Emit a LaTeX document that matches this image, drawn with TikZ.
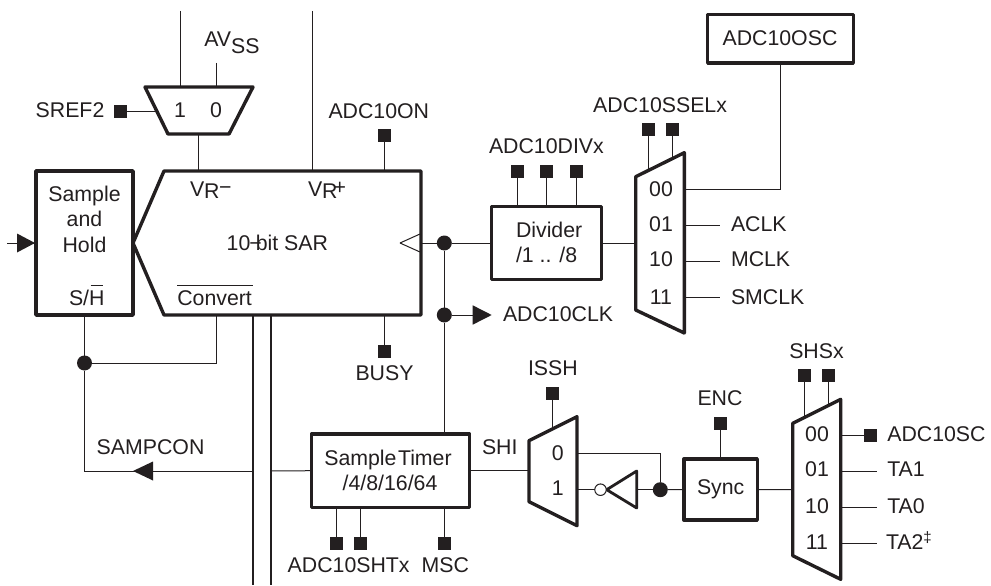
\documentclass[tikz,border=0pt]{standalone}
\usepackage{fontspec}
\setmainfont{Liberation Sans}
\definecolor{ink}{HTML}{231F20}
\tikzset{
  lbl/.style={inner sep=0pt,outer sep=0pt,text=ink,font=\fontsize{21.3}{25}\selectfont},
  wire/.style={draw=ink,line width=1pt},
  bus/.style={draw=ink,line width=2.2pt},
  thk/.style={draw=ink,line width=3.4pt,line join=round},
  boxn/.style={draw=ink,line width=3.4pt,line join=round,inner sep=0pt,outer sep=0pt,fill=white},
  pad/.style={fill=ink,inner sep=0pt,outer sep=0pt,minimum size=13pt,draw=none},
  jdot/.style={circle,fill=ink,inner sep=0pt,outer sep=0pt,minimum size=15pt,draw=none},
  bub/.style={circle,draw=ink,line width=1pt,fill=white,inner sep=0pt,outer sep=0pt,minimum size=11.5pt},
  head/.style={fill=ink,draw=none},
}
\begin{document}
\begin{tikzpicture}[x=1pt,y=-1pt]
\path[use as bounding box,fill=white] (0,0) rectangle (991,586);

% --- coordinates of the free ends
\coordinate (top1) at (180.5,11);
\coordinate (topav) at (216,63);
\coordinate (topvp) at (312.5,11);
\coordinate (m1in1) at (180.5,87);
\coordinate (m1in0) at (216,87);
\coordinate (m1out) at (198.5,134);
\coordinate (m1sel) at (155,111);
\coordinate (adcvm) at (198.5,171);
\coordinate (adcvp) at (312.5,171);
\coordinate (adcon) at (384.5,171);
\coordinate (adcbusy) at (384.5,315);
\coordinate (adcclk) at (421,243);
\coordinate (adcconv) at (216,315);
\coordinate (adcb1) at (252.7,315);
\coordinate (adcb2) at (270.7,315);
\coordinate (b1end) at (252.7,585);
\coordinate (b2end) at (270.7,585);
\coordinate (inL) at (7,243);
\coordinate (cornerA) at (84.5,471);
\coordinate (cornerB) at (216,363);
\coordinate (bus1y) at (252.7,471);
\coordinate (bus2y) at (270.7,471);
\coordinate (clkout) at (490,315);

% --- boxes
\node[boxn,minimum width=97pt,minimum height=144pt] (sh) at (84.5,243) {};
\node[boxn,minimum width=109.5pt,minimum height=72.5pt] (div) at (546.5,243) {};
\node[boxn,minimum width=145.6pt,minimum height=48.5pt] (osc) at (780.5,38.7) {};
\node[boxn,minimum width=158pt,minimum height=73.5pt] (timer) at (390.5,470.7) {};
\node[boxn,minimum width=73.3pt,minimum height=61pt] (sync) at (720.7,489.5) {};

% --- ADC body and muxes
\draw[thk] (421,171) -- (164,171) -- (133,243) -- (164,315) -- (421,315) -- cycle;
\draw[wire] (400,243) -- (420,234);
\draw[wire] (400,243) -- (420,252);
\draw[thk] (145,87) -- (253,87) -- (229,134) -- (168,134) -- cycle;
\draw[thk] (635.7,176.7) -- (684.3,152.7) -- (684.3,333) -- (635.7,310) -- cycle;
\draw[thk] (529,440.7) -- (577,416.7) -- (577,525.7) -- (529,501.7) -- cycle;
\draw[thk] (792.7,423.3) -- (840.7,399.3) -- (840.7,579.3) -- (792.7,555.7) -- cycle;
\draw[draw=ink,line width=2.8pt,line join=round] (606.7,489.7) -- (636.7,471) -- (636.7,508) -- cycle;

% --- pads
\node[pad] (psref) at (120.5,111) {};
\node[pad] (pon) at (384.5,135) {};
\node[pad] (pbusy) at (384.5,351) {};
\node[pad] (pd1) at (517,171.3) {};
\node[pad] (pd2) at (546.7,171.3) {};
\node[pad] (pd3) at (576,171.3) {};
\node[pad] (ps1) at (648.7,129.3) {};
\node[pad] (ps2) at (672.7,129.3) {};
\node[pad] (pt1) at (336.3,543.3) {};
\node[pad] (pt2) at (360.3,543.3) {};
\node[pad] (pmsc) at (444.3,543.3) {};
\node[pad] (pissh) at (552.3,393.3) {};
\node[pad] (penc) at (720.3,423.3) {};
\node[pad] (ph1) at (804.3,375.3) {};
\node[pad] (ph2) at (828.3,375.3) {};
\node[pad] (psc) at (870.3,435) {};

% --- junctions
\node[jdot] (j1) at (84.5,363) {};
\node[jdot] (j2) at (444.3,243) {};
\node[jdot] (j3) at (444.3,315) {};
\node[jdot] (j4) at (660.3,489.7) {};
\node[bub] (nb) at (600.5,489.7) {};

% --- wires, top
\draw[wire] (top1) -- (m1in1);
\draw[wire] (topav) -- (m1in0);
\draw[wire] (m1out) -- (adcvm);
\draw[wire] (topvp) -- (adcvp);
\draw[wire] (psref.east) -- (m1sel);
\draw[wire] (pon.south) -- (adcon);
\draw[wire] (adcbusy) -- (pbusy.north);
\draw[wire] (adcclk) -- (j2);
\draw[wire] (j2) -- (div.west);
\draw[wire] (j2) -- (j3);
\draw[wire] (j3) -- (timer.north -| j3);
\draw[wire] (pd1.south) -- (div.north -| pd1);
\draw[wire] (pd2.south) -- (div.north -| pd2);
\draw[wire] (pd3.south) -- (div.north -| pd3);
\coordinate (m2w) at (635.7,243);
\draw[wire] (div.east) -- (m2w);
\coordinate (m2s1) at (648.7,170);
\coordinate (m2s2) at (672.7,158);
\draw[wire] (ps1.south) -- (m2s1);
\draw[wire] (ps2.south) -- (m2s2);
\coordinate (m200) at (684.3,189);
\coordinate (m201) at (684.3,225);
\coordinate (m210) at (684.3,261.5);
\coordinate (m211) at (684.3,297);
\coordinate (aclk) at (720,225);
\coordinate (mclk) at (720,261.5);
\coordinate (smclk) at (720,297);
\draw[wire] (osc.south -| 780.7,0) -- (780.7,189) -- (m200);
\draw[wire] (m201) -- (aclk);
\draw[wire] (m210) -- (mclk);
\draw[wire] (m211) -- (smclk);

% --- clock out arrow
\draw[wire] (j3) -- (clkout);
\coordinate (cka) at (472.7,305.3);
\coordinate (ckb) at (472.7,324.7);
\coordinate (ckt) at (491.7,315);
\fill[head] (cka) -- (ckt) -- (ckb) -- cycle;

% --- input arrow
\draw[wire] (inL) -- (sh.west);
\coordinate (ia) at (17,233.5);
\coordinate (ib) at (17,252.5);
\coordinate (it) at (35,243);
\fill[head] (ia) -- (it) -- (ib) -- cycle;

% --- S/H, convert, sampcon
\draw[wire] (sh.south) -- (j1);
\draw[wire] (adcconv) -- (cornerB) -- (j1);
\draw[wire] (j1) -- (cornerA) -- (bus1y);
\draw[wire] (bus2y) -- (timer.west);
\coordinate (sa) at (153,461.5);
\coordinate (sb) at (153,480.5);
\coordinate (st) at (133,471);
\fill[head] (sa) -- (st) -- (sb) -- cycle;
\draw[bus] (adcb1) -- (b1end);
\draw[bus] (adcb2) -- (b2end);

% --- timer connections
\draw[wire] (timer.south -| pt1) -- (pt1.north);
\draw[wire] (timer.south -| pt2) -- (pt2.north);
\draw[wire] (timer.south -| pmsc) -- (pmsc.north);
\coordinate (m3w) at (529,470.7);
\draw[wire] (timer.east) -- (m3w);
\coordinate (m3s) at (552.3,428);
\draw[wire] (pissh.south) -- (m3s);
\coordinate (m30) at (577,453.7);
\coordinate (m31) at (577,489.7);
\coordinate (trb) at (636.7,489.7);
\draw[wire] (m30) -- (660.3,453.7) -- (j4);
\draw[wire] (m31) -- (nb.west);
\draw[wire] (trb) -- (j4);
\draw[wire] (j4) -- (sync.west);
\draw[wire] (penc.south) -- (sync.north -| penc);
\coordinate (m4w) at (792.7,489.7);
\draw[wire] (sync.east) -- (m4w);
\coordinate (m4s1) at (804.3,417);
\coordinate (m4s2) at (828.3,405);
\draw[wire] (ph1.south) -- (m4s1);
\draw[wire] (ph2.south) -- (m4s2);
\coordinate (m400) at (840.7,435);
\coordinate (m401) at (840.7,471.3);
\coordinate (m410) at (840.7,507.7);
\coordinate (m411) at (840.7,543.7);
\coordinate (ta1) at (876.7,471.3);
\coordinate (ta0) at (876.7,507.7);
\coordinate (ta2) at (876.7,543.7);
\draw[wire] (m400) -- (psc.west);
\draw[wire] (m401) -- (ta1);
\draw[wire] (m410) -- (ta0);
\draw[wire] (m411) -- (ta2);

% --- labels
\node[lbl,anchor=base west] (tav) at (204.3,46.7) {AV\lower6.5pt\hbox{SS}};
\node[lbl,anchor=base] (t1a) at (180,117.7) {1};
\node[lbl,anchor=base] (t0a) at (216,117.7) {0};
\node[lbl,anchor=base west] (tsref) at (35.7,117.7) {SREF2};
\node[lbl,anchor=base west] (ton) at (328.5,118) {ADC10ON};
\node[lbl,anchor=base west] (tdiv) at (489,153) {ADC10DIVx};
\node[lbl,anchor=base east] (tsel) at (727,112) {ADC10SSELx};
\node[lbl,anchor=base] (tosc) at (780,46) {ADC10OSC};
\node[lbl,anchor=base] (tsa) at (84.5,201.7) {Sample};
\node[lbl,anchor=base] (tan) at (84.5,226.7) {and};
\node[lbl,anchor=base] (tho) at (84.5,252.7) {Hold};
\node[lbl,anchor=base west] (tsh) at (69,305.7) {S/H};
\coordinate (ovh1) at (90.7,285.3);
\coordinate (ovh2) at (103,285.3);
\draw[wire] (ovh1) -- (ovh2);
\node[lbl,anchor=base west] (tvm) at (190,196) {V\lower2.3pt\hbox{R}\kern-0.5pt\raise2pt\hbox{−}};
\node[lbl,anchor=base west] (tvp) at (308,196) {V\lower2.3pt\hbox{R}\kern-4pt\raise2pt\hbox{+}};
\node[lbl,anchor=base west] (tsar) at (226.7,250) {10\kern-1pt−\kern-6pt bit SAR};
\node[lbl,anchor=base west] (tcv) at (177.3,305.7) {Convert};
\coordinate (ovc1) at (177.3,285.3);
\coordinate (ovc2) at (253,285.3);
\draw[wire] (ovc1) -- (ovc2);
\node[lbl,anchor=base west] (tdv1) at (516,237) {Divider};
\node[lbl,anchor=base west] (tdv2) at (516,262) {/1 .. /8};
\node[lbl,anchor=base west] (tclk) at (503,321.7) {ADC10CLK};
\node[lbl,anchor=base] (l00) at (661,196) {00};
\node[lbl,anchor=base] (l01) at (661,231.7) {01};
\node[lbl,anchor=base] (l10) at (661,266.7) {10};
\node[lbl,anchor=base] (l11) at (661,304) {11};
\node[lbl,anchor=base west] (taclk) at (731,231.7) {ACLK};
\node[lbl,anchor=base west] (tmclk) at (731,266.7) {MCLK};
\node[lbl,anchor=base west] (tsmclk) at (731,304) {SMCLK};
\node[lbl,anchor=base] (tbusy) at (384.5,380) {BUSY};
\node[lbl,anchor=base west] (tsamp) at (96.7,454) {SAMPCON};
\node[lbl,anchor=base] (tst1) at (388,465) {Sample\kern1.5pt Timer};
\node[lbl,anchor=base] (tst2) at (390,490) {/4/8/16/64};
\node[lbl,anchor=base west] (tsht) at (287.7,572.7) {ADC10SHTx};
\node[lbl,anchor=base west] (tmsc) at (421.7,572.7) {MSC};
\node[lbl,anchor=base west] (tissh) at (528,375.7) {ISSH};
\node[lbl,anchor=base west] (tshi) at (482,454) {SHI};
\node[lbl,anchor=base] (tm0) at (557.7,460) {0};
\node[lbl,anchor=base] (tm1) at (557.7,495) {1};
\node[lbl,anchor=base] (tsync) at (720.7,494) {Sync};
\node[lbl,anchor=base] (tenc) at (720,405.7) {ENC};
\node[lbl,anchor=base] (tshs) at (816.5,358) {SHSx};
\node[lbl,anchor=base] (h00) at (817,441.7) {00};
\node[lbl,anchor=base] (h01) at (817,476.7) {01};
\node[lbl,anchor=base] (h10) at (817,513.3) {10};
\node[lbl,anchor=base] (h11) at (817,549.3) {11};
\node[lbl,anchor=base west] (tsc) at (887.3,441.7) {ADC10SC};
\node[lbl,anchor=base west] (tta1) at (887.3,476.7) {TA1};
\node[lbl,anchor=base west] (tta0) at (887.3,513.3) {TA0};
\node[lbl,anchor=base west] (tta2) at (886,549.3) {TA2\raise7pt\hbox{\fontsize{15}{17}\selectfont ‡}};
\end{tikzpicture}
\end{document}
